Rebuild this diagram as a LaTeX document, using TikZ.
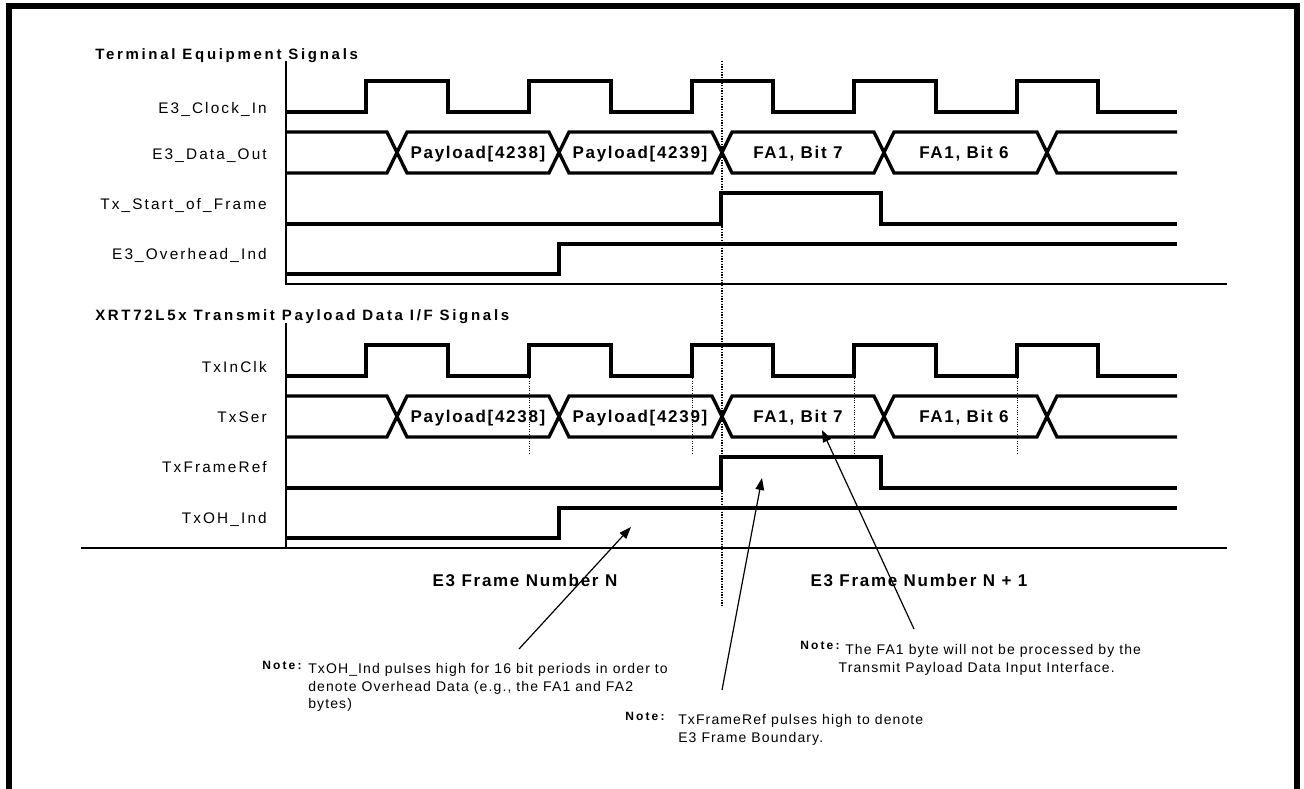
\documentclass[tikz,border=0pt]{standalone}
\usepackage{fontspec}
\setmainfont{Liberation Sans}
\newfontfamily\sigface{Liberation Sans}[LetterSpace=14]
\newfontfamily\titleface{Liberation Sans}[LetterSpace=18]
\newfontfamily\busface{Liberation Sans}[LetterSpace=10]
\newfontfamily\noteface{Liberation Sans}[LetterSpace=8]
\newfontfamily\noteheadface{Liberation Sans}[LetterSpace=18]
\usetikzlibrary{arrows.meta}
\tikzset{
  sig/.style={line width=2.5pt,line join=miter},
  axis/.style={line width=0.9pt},
  boundary/.style={line width=0.9pt,dash pattern=on 0.9pt off 1.1pt},
  strobe/.style={line width=0.7pt,dash pattern=on 0.7pt off 1.1pt},
  sigmark/.style={font=\sigface\fontsize{11.5}{13}\selectfont,anchor=base east,inner sep=0pt},
  grouptitle/.style={font=\titleface\bfseries\fontsize{11.25}{13}\selectfont,anchor=base west,inner sep=0pt},
  buslabel/.style={font=\busface\bfseries\fontsize{12.75}{14}\selectfont,anchor=base,inner sep=0pt},
  notehead/.style={font=\noteheadface\bfseries\fontsize{9}{10}\selectfont,anchor=north west,inner sep=0pt},
  notetext/.style={font=\noteface\fontsize{10.5}{13.3}\selectfont,anchor=north west,align=left,inner sep=0pt},
  pointer/.style={line width=0.9pt,-{Triangle[length=9pt,width=6.5pt]}}
}

\begin{document}
\begin{tikzpicture}[x=0.75pt,y=-0.75pt]
  \useasboundingbox (0,0) rectangle (1304,789);

  % Outer frame, open at the bottom
  \draw[line width=4.5pt] (9,789) -- (9,6) -- (1297,6) -- (1297,789);

  % Group titles
  \node[grouptitle] (termtitle) at (95,59) {Terminal Equipment Signals};
  \node[grouptitle] (xrttitle) at (95,320) {XRT72L5x Transmit Payload Data I/F Signals};

  % Signal names
  \node[sigmark] (clkin) at (267,113) {E3\_Clock\_In};
  \node[sigmark] (dataout) at (267,159) {E3\_Data\_Out};
  \node[sigmark] (sof) at (267,209) {Tx\_Start\_of\_Frame};
  \node[sigmark] (ohind) at (267,259) {E3\_Overhead\_Ind};
  \node[sigmark] (txinclk) at (267,372) {TxInClk};
  \node[sigmark] (txser) at (267,422) {TxSer};
  \node[sigmark] (txframeref) at (267,472) {TxFrameRef};
  \node[sigmark] (txohind) at (267,523) {TxOH\_Ind};

  % Axes
  \draw[axis] (286,61) -- (286,284) -- (1227,284);
  \draw[axis] (286,323) -- (286,548);
  \draw[axis] (81,548) -- (1227,548);

  % Waveforms (same in both groups)
  \foreach \dy in {0,264} {
    \begin{scope}[shift={(0,\dy)}]
      % clock
      \draw[sig] (286,112) -| (366,81) -| (448,112) -| (529,81) -| (611,112) -| (692,81)
        -| (773,112) -| (854,81) -| (936,112) -| (1017,81) -| (1098,112) -- (1177,112);
      % data bus
      \draw[sig] (286,132) -- (387,132) -- (407,173) -- (549,173) -- (569,132) -- (712,132)
        -- (732,173) -- (874,173) -- (894,132) -- (1037,132) -- (1057,173) -- (1177,173);
      \draw[sig] (286,173) -- (387,173) -- (407,132) -- (549,132) -- (569,173) -- (712,173)
        -- (732,132) -- (874,132) -- (894,173) -- (1037,173) -- (1057,132) -- (1177,132);
      \node[buslabel] (pay38-\dy) at (478,158.5) {Payload[4238]};
      \node[buslabel] (pay39-\dy) at (640,158.5) {Payload[4239]};
      \node[buslabel] (bit7-\dy) at (798,158.5) {FA1, Bit 7};
      \node[buslabel] (bit6-\dy) at (964,158.5) {FA1, Bit 6};
      % frame pulse
      \draw[sig] (286,224) -| (721,193) -| (881,224) -- (1177,224);
      % overhead indicator
      \draw[sig] (286,274) -| (559,244) -- (1177,244);
    \end{scope}
  }

  % Sampling points on TxInClk
  \foreach \x in {529,692,854,1017}
    \draw[strobe] (\x,376) -- (\x,454);

  % Frame boundary
  \draw[boundary] (722,61) -- (722,607);
  \node[buslabel] (framen) at (525,586) {E3 Frame Number N};
  \node[buslabel] (framen1) at (919,586) {E3 Frame Number N + 1};

  % Notes
  \node[notehead] (ohnote) at (262,661) {Note:};
  \node[notetext] (ohtext) at (308,663) {TxOH\_Ind pulses high for 16 bit periods in order to\\denote Overhead Data (e.g., the FA1 and FA2\\bytes)};
  \node[notehead] (refnote) at (625,712) {Note:};
  \node[notetext] (reftext) at (678,714) {TxFrameRef pulses high to denote\\E3 Frame Boundary.};
  \node[notehead] (fanote) at (800,641) {Note:};
  \node[notetext] (fatext) at (845,644.5) {The FA1 byte will not be processed by the\\\hspace*{-5pt}Transmit Payload Data Input Interface.};

  % Pointers
  \coordinate (ohfrom) at (519,649);
  \coordinate (ohto) at (631,527);
  \coordinate (reffrom) at (722,690);
  \coordinate (refto) at (762,478);
  \coordinate (fafrom) at (914,629);
  \coordinate (fato) at (822,430);
  \draw[pointer] (ohfrom) -- (ohto);
  \draw[pointer] (reffrom) -- (refto);
  \draw[pointer] (fafrom) -- (fato);
\end{tikzpicture}
\end{document}
